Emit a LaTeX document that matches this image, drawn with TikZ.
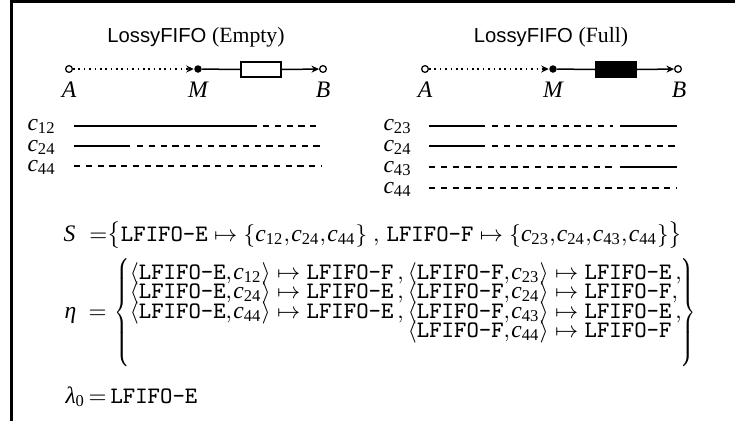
\documentclass[tikz,border=0pt]{standalone}
\usepackage{amsmath}
\usepackage{graphicx}
\usepackage{fontspec}
\setmainfont{Liberation Serif}
\setsansfont{Liberation Sans}
\usetikzlibrary{arrows.meta}
\newcommand{\mathfont}{\fontsize{9.45}{11}\selectfont\thinmuskip=1mu\nulldelimiterspace=0pt}
\tikzset{
  frameline/.style={line width=1.2pt},
  solidseg/.style={line width=0.75pt},
  dashseg/.style={line width=0.75pt, dash pattern=on 2.5pt off 2.2pt},
  dotline/.style={line width=0.65pt, dash pattern=on 0.65pt off 1.5pt},
  conn/.style={line width=0.6pt},
  tip/.style={-{Stealth[length=3pt,width=2.8pt]}},
  port/.style={circle, draw, fill=white, inner sep=0pt, minimum size=2.7pt, line width=0.5pt},
  merger/.style={circle, fill=black, inner sep=0pt, minimum size=3pt},
  buf/.style={draw, minimum width=16pt, minimum height=6pt, inner sep=0pt, line width=0.5pt},
  lab/.style={anchor=base, inner sep=0pt, font=\mathfont},
  mtext/.style={anchor=base west, inner sep=0pt, font=\mathfont},
  titletext/.style={anchor=base, inner sep=0pt, font=\fontsize{8.1}{9}\selectfont}
}
\newcommand{\LE}{\texttt{LFIFO-E}}
\newcommand{\LF}{\texttt{LFIFO-F}}
\newcommand{\vi}[1]{\text{\itshape #1}}
\newcommand{\cc}[1]{\vi{c}_{\text{#1}}}
\newcommand{\gapsp}{\mskip3mu}
\newcommand{\colA}[1]{\makebox[111.2pt][l]{$#1$}}
\newcommand{\colB}[1]{\makebox[109pt][l]{$#1$}}
\newcommand{\bracestrut}{\vcenter{\hbox{\rule{0pt}{44pt}}}}
\newcommand{\serifpart}[1]{{\rmfamily\fontsize{8.7}{9}\selectfont #1}}
\begin{document}
\begin{tikzpicture}[x=0.4pt,y=-0.4pt]
\useasboundingbox (0,0) rectangle (735,421);
% frame
\draw[frameline] (11.5,421) -- (11.5,1.5) -- (735,1.5);

% ---------- left diagram ----------
\node[titletext] (t1) at (196,42) {\sffamily LossyFIFO \serifpart{(Empty)}};
\node[port] (A1) at (69,69) {};
\node[merger] (M1) at (198,69) {};
\node[buf] (F1) at (261,69.5) {};
\node[port] (B1) at (323,69) {};
\draw[dotline,tip] (A1) -- (M1);
\draw[conn] (M1) -- (F1.west);
\draw[conn,tip] (F1.east) -- (B1);
\node[lab] (lA1) at (69,97) {\itshape A};
\node[lab] (lM1) at (198,97) {\itshape M};
\node[lab] (lB1) at (323,97) {\itshape B};

\node[mtext] (c12) at (27,130.5) {$\cc{12}$};
\node[mtext] (c24a) at (27,151) {$\cc{24}$};
\node[mtext] (c44a) at (27,171.5) {$\cc{44}$};
\draw[solidseg] (74,126) -- (257,126);
\draw[dashseg] (263,126) -- (321,126);
\draw[solidseg] (74,146) -- (130,146);
\draw[dashseg] (137,146) -- (321,146);
\draw[dashseg] (74,166) -- (321,166);

% ---------- right diagram ----------
\node[titletext] (t2) at (551,42) {\sffamily LossyFIFO \serifpart{(Full)}};
\node[port] (A2) at (425,69) {};
\node[merger] (M2) at (553,69) {};
\node[buf,fill=black] (F2) at (616,69.5) {};
\node[port] (B2) at (678,69) {};
\draw[dotline,tip] (A2) -- (M2);
\draw[conn] (M2) -- (F2.west);
\draw[conn,tip] (F2.east) -- (B2);
\node[lab] (lA2) at (425,97) {\itshape A};
\node[lab] (lM2) at (553,97) {\itshape M};
\node[lab] (lB2) at (679,97) {\itshape B};

\node[mtext] (c23) at (383,130.5) {$\cc{23}$};
\node[mtext] (c24b) at (383,151) {$\cc{24}$};
\node[mtext] (c43) at (383,172) {$\cc{43}$};
\node[mtext] (c44b) at (383,193) {$\cc{44}$};
\draw[solidseg] (429,126) -- (485,126);
\draw[dashseg] (492,126) -- (613,126);
\draw[solidseg] (620,126) -- (677,126);
\draw[solidseg] (429,146) -- (485,146);
\draw[dashseg] (492,146) -- (677,146);
\draw[dashseg] (429,167) -- (613,167);
\draw[solidseg] (620,167) -- (677,167);
\draw[dashseg] (429,188) -- (677,188);

% ---------- formulas ----------
\node[mtext] (S) at (63,241) {\itshape S};
\node[mtext] (Seq) at (89,241) {${=}\bigl\{\LE\mapsto\{\cc{12},\cc{24},\cc{44}\}\ ,\ \LF\mapsto\{\cc{23},\cc{24},\cc{43},\cc{44}\}\bigr\}$};

\node[mtext] (eta) at (64,318) {\itshape η};
\node[mtext] (etaeq) at (88,318) {${=}$};
\node[inner sep=0pt, anchor=west, font=\mathfont] (etablock) at (114,312.5) {$%
\scalebox{0.75}[1]{$\left\{\bracestrut\right.$}%
\renewcommand{\arraystretch}{0.5}%
\begin{array}{@{}l@{}l@{}}
\colA{\langle\LE,\cc{12}\rangle\mapsto\LF\gapsp,} & \colB{\langle\LF,\cc{23}\rangle\mapsto\LE\gapsp,}\\[-1.25pt]
\colA{\langle\LE,\cc{24}\rangle\mapsto\LE\gapsp,} & \colB{\langle\LF,\cc{24}\rangle\mapsto\LF,}\\[-1.25pt]
\colA{\langle\LE,\cc{44}\rangle\mapsto\LE\gapsp,} & \colB{\langle\LF,\cc{43}\rangle\mapsto\LE\gapsp,}\\[-1.25pt]
 & \colB{\langle\LF,\cc{44}\rangle\mapsto\LF}\\[-1.25pt]
\vphantom{\langle\rangle} &
\end{array}%
\scalebox{0.75}[1]{$\left.\bracestrut\right\}$}$};

\node[mtext] (lam) at (65,403) {$\vi{λ}_{\text{0}}$};
\node[mtext] (lameq) at (88,403) {${=}$};
\node[mtext] (lamv) at (110,403) {$\LE$};
\end{tikzpicture}
\end{document}
